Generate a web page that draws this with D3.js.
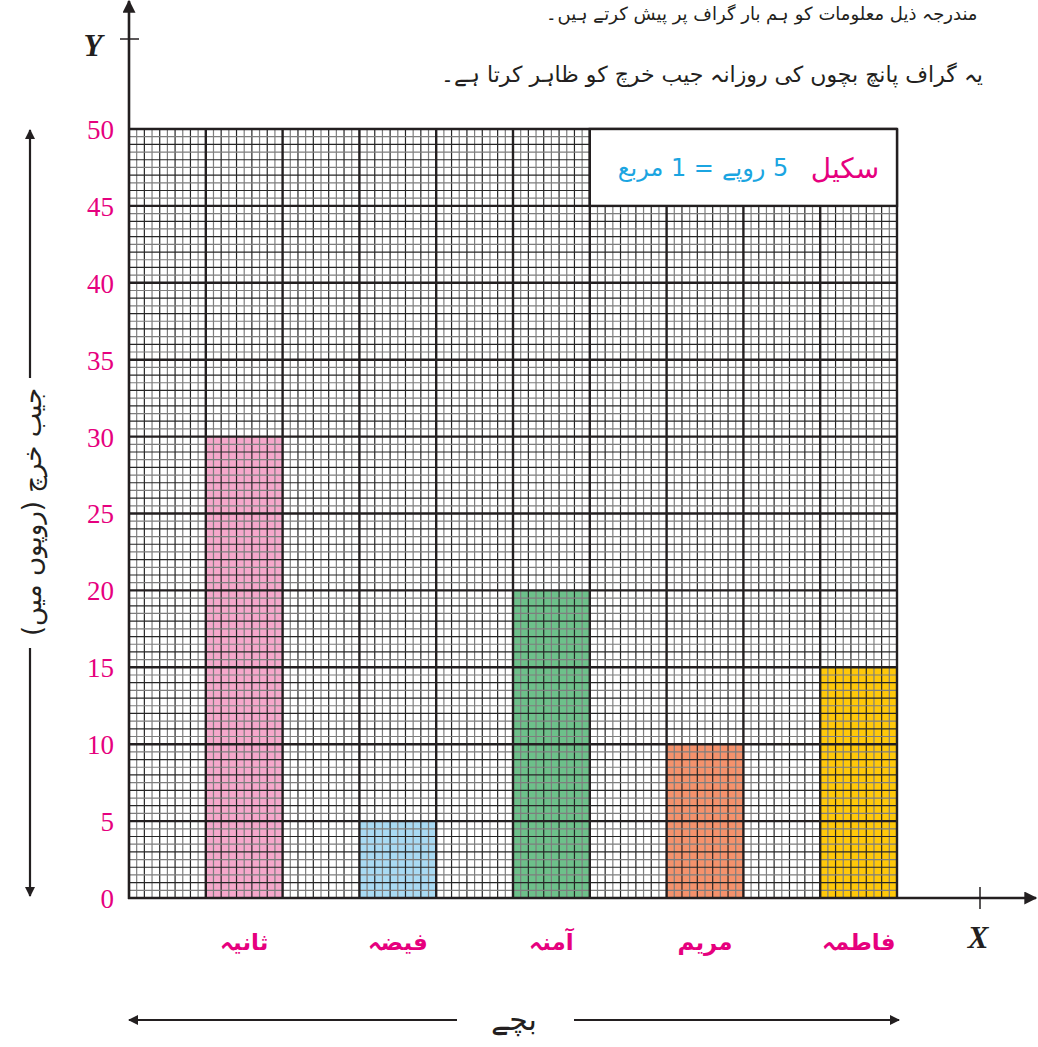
<!DOCTYPE html>
<html>
<head>
<meta charset="utf-8">
<script src="https://cdn.jsdelivr.net/npm/d3@7"></script>
<style>
  html, body { margin: 0; padding: 0; background: #fff; }
  svg { display: block; }
</style>
</head>
<body>
<svg id="chart" width="1038" height="1047"></svg>
<script>
// ---------- data ----------
const categories = ["ثانیہ", "فیضہ", "آمنہ", "مریم", "فاطمہ"];
const values = [30, 5, 20, 10, 15];
const barColors = ["#f5a8cb", "#a9daf3", "#6dc08a", "#f4926c", "#ffc80a"];
const yTicks = [0, 5, 10, 15, 20, 25, 30, 35, 40, 45, 50];
const titleLine1 = "مندرجہ ذیل معلومات کو ہم بار گراف پر پیش کرتے ہیں۔";
const titleLine2 = "یہ گراف پانچ بچوں کی روزانہ جیب خرچ کو ظاہر کرتا ہے۔";
const yAxisTitle = "جیب خرچ (روپوں میں)";
const xAxisTitle = "بچے";
const scaleWord = "سکیل";
const scaleText = "5 روپے = 1 مربع";

// ---------- layout ----------
const svg = d3.select("#chart");
const L = 129, R = 897, T = 129, B = 898;
const pink = "#e6007e";
const ink = "#231f20";
const urdu = "'DejaVu Sans', sans-serif";

const y = d3.scaleLinear().domain([0, 50]).range([B, T]);
const xg = d3.scaleLinear().domain([0, 10]).range([L, R]);  // grid columns
const x = d3.scaleBand().domain(categories).range([L, R])
  .paddingInner(0.5).paddingOuter(0.25).align(1);

// defs: arrowheads
const defs = svg.append("defs");
defs.append("marker").attr("id", "arr").attr("viewBox", "0 0 10 10")
  .attr("refX", 9).attr("refY", 5).attr("markerWidth", 10).attr("markerHeight", 10)
  .attr("markerUnits", "userSpaceOnUse").attr("orient", "auto-start-reverse")
  .append("path").attr("d", "M0,0 L10,5 L0,10 Z").attr("fill", ink);
defs.append("marker").attr("id", "arrBig").attr("viewBox", "0 0 10 10")
  .attr("refX", 9).attr("refY", 5).attr("markerWidth", 16).attr("markerHeight", 13)
  .attr("markerUnits", "userSpaceOnUse").attr("orient", "auto-start-reverse")
  .append("path").attr("d", "M0,0 L10,5 L0,10 Z").attr("fill", ink);

// ---------- bars ----------
svg.append("g").selectAll("rect").data(categories).join("rect")
  .attr("x", d => x(d))
  .attr("y", (d, i) => y(values[i]))
  .attr("width", x.bandwidth())
  .attr("height", (d, i) => y(0) - y(values[i]))
  .attr("fill", (d, i) => barColors[i]);

// ---------- grid ----------
const grid = svg.append("g");
const minorX = d3.range(1, 100).filter(i => i % 10 !== 0);
const minorY = d3.range(1, 100).filter(i => i % 10 !== 0);
grid.selectAll("line.mx").data(minorX).join("line")
  .attr("x1", i => xg(i / 10)).attr("x2", i => xg(i / 10))
  .attr("y1", T).attr("y2", B)
  .attr("stroke", i => i % 2 === 0 ? "#262626" : "#7e7e7e")
  .attr("stroke-width", 1.2);
grid.selectAll("line.my").data(minorY).join("line")
  .attr("x1", L).attr("x2", R)
  .attr("y1", i => y(i / 2)).attr("y2", i => y(i / 2))
  .attr("stroke", i => i % 2 === 0 ? "#262626" : "#7e7e7e")
  .attr("stroke-width", 1.2);
grid.selectAll("line.MX").data(d3.range(1, 11)).join("line")
  .attr("x1", i => xg(i)).attr("x2", i => xg(i))
  .attr("y1", T).attr("y2", B)
  .attr("stroke", ink).attr("stroke-width", 2.4);
grid.selectAll("line.MY").data(yTicks.slice(1)).join("line")
  .attr("x1", L).attr("x2", R)
  .attr("y1", d => y(d)).attr("y2", d => y(d))
  .attr("stroke", ink).attr("stroke-width", 2.4);

// ---------- scale box ----------
svg.append("rect")
  .attr("x", xg(6)).attr("y", y(50))
  .attr("width", xg(10) - xg(6)).attr("height", y(45) - y(50))
  .attr("fill", "#fff").attr("stroke", ink).attr("stroke-width", 2.4);
svg.append("text").text(scaleWord)
  .attr("x", 845).attr("y", 178).attr("text-anchor", "middle")
  .attr("font-family", urdu).attr("font-size", 28).attr("fill", pink);
svg.append("text").text(scaleText)
  .attr("x", 703).attr("y", 176).attr("text-anchor", "middle")
  .attr("direction", "rtl")
  .attr("font-family", urdu).attr("font-size", 24).attr("fill", "#1ba5e1");

// ---------- axes ----------
// Y axis line with arrow
svg.append("line").attr("x1", L).attr("x2", L).attr("y1", B + 1).attr("y2", 1)
  .attr("stroke", ink).attr("stroke-width", 2.6).attr("marker-end", "url(#arrBig)");
svg.append("line").attr("x1", 120).attr("x2", 139).attr("y1", 39).attr("y2", 39)
  .attr("stroke", ink).attr("stroke-width", 1.5);
svg.append("text").text("Y").attr("x", 93).attr("y", 56).attr("text-anchor", "middle")
  .attr("font-family", "'Liberation Serif', serif").attr("font-style", "italic")
  .attr("font-weight", "bold").attr("font-size", 31).attr("fill", ink);

// X axis line with arrow
svg.append("line").attr("x1", L - 1).attr("x2", 1036).attr("y1", B).attr("y2", B)
  .attr("stroke", ink).attr("stroke-width", 2.6).attr("marker-end", "url(#arrBig)");
svg.append("line").attr("x1", 980).attr("x2", 980).attr("y1", 887).attr("y2", 909)
  .attr("stroke", ink).attr("stroke-width", 1.5);
svg.append("text").text("X").attr("x", 978).attr("y", 948).attr("text-anchor", "middle")
  .attr("font-family", "'Liberation Serif', serif").attr("font-style", "italic")
  .attr("font-weight", "bold").attr("font-size", 31).attr("fill", ink);

// Y tick labels via d3 axis
const yAxis = d3.axisLeft(y).tickValues(yTicks).tickSize(0).tickPadding(15);
const gy = svg.append("g").attr("transform", `translate(${L},0)`).call(yAxis);
gy.select(".domain").remove();
gy.selectAll("text")
  .attr("font-family", "'Liberation Serif', serif").attr("font-size", 27)
  .attr("fill", pink).attr("dy", "0.35em");

// X category labels via d3 axis
const xAxis = d3.axisBottom(x).tickSize(0).tickPadding(36);
const gx = svg.append("g").attr("transform", `translate(0,${B})`).call(xAxis);
gx.select(".domain").remove();
gx.selectAll("text")
  .attr("font-family", urdu).attr("font-size", 23).attr("font-weight", "bold")
  .attr("fill", pink);

// ---------- axis titles with arrows ----------
// left vertical
svg.append("line").attr("x1", 30).attr("x2", 30).attr("y1", 378).attr("y2", 130)
  .attr("stroke", ink).attr("stroke-width", 2.2).attr("marker-end", "url(#arr)");
svg.append("line").attr("x1", 30).attr("x2", 30).attr("y1", 648).attr("y2", 896)
  .attr("stroke", ink).attr("stroke-width", 2.2).attr("marker-end", "url(#arr)");
svg.append("text").text(yAxisTitle)
  .attr("transform", "translate(41,512) rotate(-90)")
  .attr("text-anchor", "middle").attr("direction", "rtl")
  .attr("font-family", urdu).attr("font-size", 26).attr("fill", ink);

// bottom horizontal
svg.append("line").attr("x1", 457).attr("x2", 129).attr("y1", 1020).attr("y2", 1020)
  .attr("stroke", ink).attr("stroke-width", 2.2).attr("marker-end", "url(#arr)");
svg.append("line").attr("x1", 574).attr("x2", 899).attr("y1", 1020).attr("y2", 1020)
  .attr("stroke", ink).attr("stroke-width", 2.2).attr("marker-end", "url(#arr)");
svg.append("text").text(xAxisTitle)
  .attr("x", 514).attr("y", 1030).attr("text-anchor", "middle")
  .attr("font-family", urdu).attr("font-size", 30).attr("fill", ink);

// ---------- title lines ----------
svg.append("text").text(titleLine1)
  .attr("x", 762).attr("y", 20).attr("text-anchor", "middle").attr("direction", "rtl")
  .attr("font-family", urdu).attr("font-size", 18).attr("fill", ink);
svg.append("text").text(titleLine2)
  .attr("x", 712).attr("y", 82).attr("text-anchor", "middle").attr("direction", "rtl")
  .attr("font-family", urdu).attr("font-size", 22).attr("fill", ink);
</script>
</body>
</html>
